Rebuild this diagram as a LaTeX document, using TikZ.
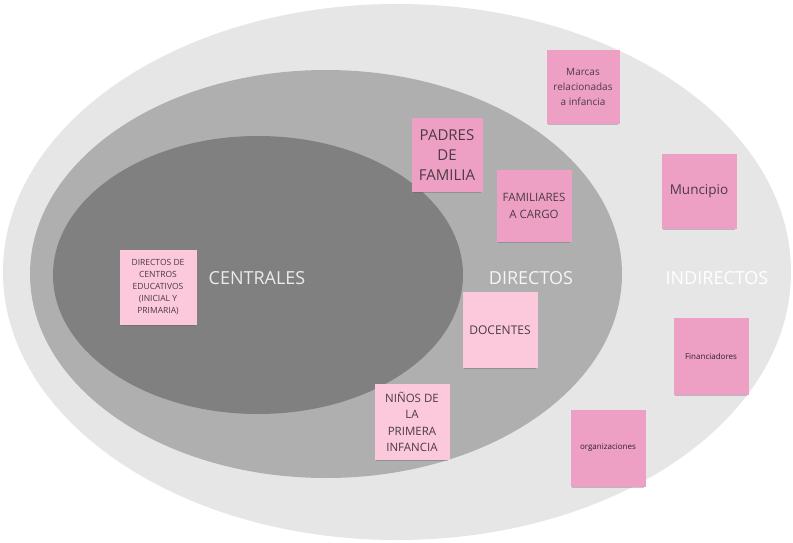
\documentclass[tikz,border=0pt]{standalone}
\usepackage{fontspec}
\setmainfont{Open Sans}
\usetikzlibrary{shadows}
\definecolor{outerc}{HTML}{E6E6E6}
\definecolor{midc}{HTML}{AFAFAF}
\definecolor{innerc}{HTML}{808080}
\definecolor{lightpink}{HTML}{FBC8DC}
\definecolor{pinknote}{HTML}{EEA0C4}
\definecolor{notetext}{HTML}{4D3B44}
\begin{document}
\begin{tikzpicture}[x=1pt,y=-1pt,
  note/.style={align=center, text=notetext, inner sep=0pt,
    minimum width=75pt, minimum height=75pt,
    drop shadow={shadow xshift=0pt, shadow yshift=-2.5pt, shadow scale=0.97, opacity=0.3, fill=black!70}},
  lbl/.style={font=\fontsize{18}{20}\selectfont}]
\useasboundingbox (0,0) rectangle (793,543);
\fill[white] (0,0) rectangle (793,543);
\fill[outerc] (397,272) ellipse [x radius=394pt, y radius=268pt];
\fill[midc] (326,274) ellipse [x radius=296pt, y radius=204pt];
\fill[innerc] (258,275) ellipse [x radius=205pt, y radius=139pt];

\node[lbl, text=white!92!black] (centrales) at (257,278) {CENTRALES};
\node[lbl, text=white!96!black] (directos) at (531,278) {DIRECTOS};
\node[lbl, text=white] (indirectos) at (717,278) {INDIRECTOS};

\node[note, fill=lightpink, minimum width=77pt, font=\fontsize{8.5}{12}\selectfont] (dce) at (158,287)
  {DIRECTOS DE\\CENTROS\\EDUCATIVOS\\(INICIAL Y\\PRIMARIA)};
\node[note, fill=pinknote, minimum width=71pt, minimum height=74pt, font=\fontsize{15}{20}\selectfont] (padres) at (447,155)
  {PADRES\\DE\\FAMILIA};
\node[note, fill=pinknote, minimum height=72pt, font=\fontsize{11.5}{17}\selectfont] (familiares) at (534,206)
  {FAMILIARES\\A CARGO};
\node[note, fill=pinknote, minimum width=73pt, minimum height=73pt, font=\fontsize{10}{15}\selectfont] (marcas) at (583,87)
  {Marcas\\relacionadas\\a infancia};
\node[note, fill=lightpink, minimum height=76pt, font=\fontsize{12}{16}\selectfont] (docentes) at (500,330)
  {DOCENTES};
\node[note, fill=lightpink, minimum height=76pt, font=\fontsize{11.5}{16.5}\selectfont] (ninos) at (412,422)
  {NIÑOS DE\\LA\\PRIMERA\\INFANCIA};
\node[note, fill=pinknote, font=\fontsize{13.5}{16}\selectfont] (municipio) at (699,191)
  {Muncipio};
\node[note, fill=pinknote, minimum height=77pt, font=\fontsize{8}{10}\selectfont, text=black!80!pinknote] (financiadores) at (711,356)
  {Financiadores};
\node[note, fill=pinknote, minimum height=77pt, font=\fontsize{8}{10}\selectfont, text=black!80!pinknote] (organizaciones) at (608,448)
  {organizaciones};
\end{tikzpicture}
\end{document}
